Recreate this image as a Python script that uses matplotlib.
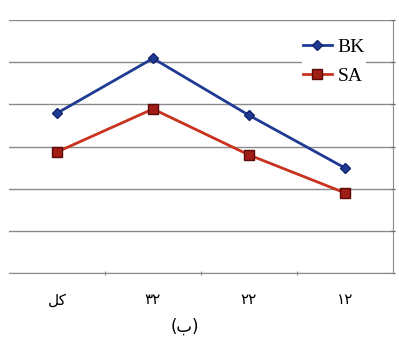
import matplotlib.pyplot as plt
from matplotlib.ticker import FixedLocator

# categories, in visual order left to right (Persian glyphs pre-shaped)
categories = ["\uFEDE\uFB90", "\u06F3\u06F2", "\u06F2\u06F2", "\u06F1\u06F2"]
bk_values = [3.79, 5.09, 3.74, 2.49]
sa_values = [2.87, 3.89, 2.80, 1.90]
caption = "(\u0628)"

fig = plt.figure(figsize=(3.99, 3.38), dpi=100)
ax = fig.add_axes([9 / 399, 1 - 273 / 338, 384 / 399, 253 / 338])

x = list(range(len(categories)))
ax.plot(x, bk_values, color="#1f3a93", lw=2, marker="D", ms=5,
        mfc="#1f3a93", mec="#14246e", label="BK", zorder=3)
ax.plot(x, sa_values, color="#c8321e", lw=2, marker="s", ms=7,
        mfc="#a01e14", mec="#5a0a0a", label="SA", zorder=3)

ax.set_xlim(-0.5, 3.5)
ax.set_ylim(0, 6)
ax.yaxis.set_major_locator(FixedLocator(range(7)))
ax.yaxis.grid(True, color="#8a8a8a", lw=1)
ax.set_axisbelow(True)
ax.yaxis.tick_right()
ax.tick_params(axis="y", length=3, direction="inout", color="#555555",
               labelright=False)

ax.set_xticks(x)
ax.set_xticklabels(categories, family=["DejaVu Sans"], fontsize=11)
ax.xaxis.set_minor_locator(FixedLocator([0.5, 1.5, 2.5]))
ax.tick_params(axis="x", which="major", length=0, pad=14)
ax.tick_params(axis="x", which="minor", length=3, direction="inout",
               color="#666666")

for s in ["top", "left"]:
    ax.spines[s].set_visible(False)
ax.spines["bottom"].set_color("#8a8a8a")
ax.spines["right"].set_color("#8a8a8a")
ax.spines["right"].set_linestyle((0, (4, 1)))

leg = ax.legend(loc="upper right", bbox_to_anchor=(0.955, 0.97),
                frameon=True, framealpha=1, edgecolor="none",
                prop={"family": "Liberation Serif", "size": 14},
                handlelength=1.5, handletextpad=0.3, labelspacing=0.6,
                borderpad=0.05)

fig.text(185 / 399, 1 - 327 / 338, caption, ha="center", va="center",
         fontsize=12, family=["DejaVu Sans"])

fig.savefig("out.png", dpi=100, facecolor="white")
